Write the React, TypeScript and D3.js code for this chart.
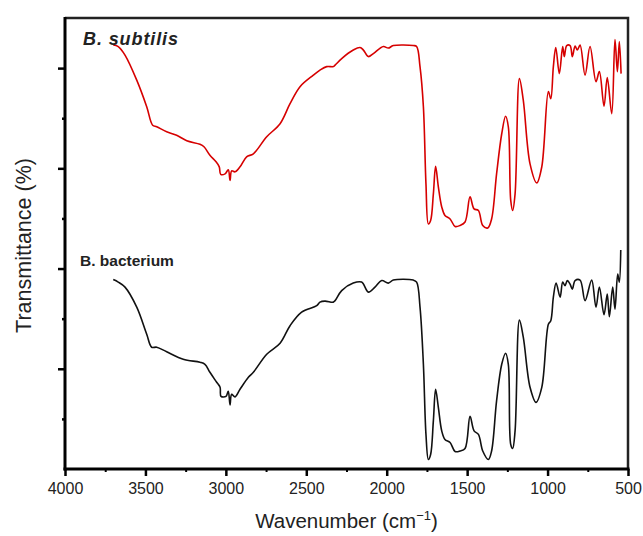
import React, { useEffect, useRef } from "react";
import * as d3 from "d3";

// wavenumber (cm-1) and transmittance (arbitrary offset units)
const subtilisWn = [
  3700, 3669, 3627, 3554, 3492, 3455, 3430, 3368, 3306, 3243, 3161, 3136, 3099, 3061, 3041, 3032, 3005, 2985, 2974, 2964,
  2943, 2912, 2871, 2829, 2746, 2663, 2601, 2539, 2456, 2415, 2373, 2332, 2321, 2280, 2208, 2166, 2145, 2114, 2083, 2021,
  1990, 1959, 1835, 1814, 1793, 1772, 1756, 1741, 1727, 1710, 1696, 1679, 1658, 1638, 1606, 1575, 1544, 1513, 1482, 1457,
  1430, 1403, 1372, 1348, 1317, 1285, 1261, 1244, 1229, 1217, 1202, 1175, 1151, 1109, 1067, 1036, 995, 980, 964, 949,
  927, 906, 896, 881, 860, 846, 829, 815, 798, 767, 736, 699, 678, 649, 629, 601, 581, 566, 554, 543,
];
const subtilisT = [
  84.6, 84.3, 82.6, 77.6, 72.3, 68.6, 68.3, 67.3, 66.6, 65.5, 64.8, 64.3, 62.6, 61.3, 60.3, 58.8, 58.9, 59.7, 57.6, 59.5,
  59.3, 60.3, 62.3, 62.9, 66.3, 68.9, 72.9, 76.3, 78.6, 79.6, 80.3, 80.3, 80.6, 81.9, 83.6, 84.1, 83.6, 82.3, 82.9, 84.3,
  84.0, 84.5, 84.5, 84.3, 80.3, 72.3, 56.9, 48.9, 49.6, 54.9, 60.4, 56.3, 52.3, 50.6, 49.9, 48.4, 48.6, 49.3, 54.3, 51.9,
  51.6, 48.6, 48.1, 49.9, 58.9, 66.9, 70.4, 68.3, 53.6, 51.6, 54.9, 77.9, 73.6, 60.9, 57.1, 60.3, 75.3, 73.9, 80.3, 84.1,
  78.9, 84.3, 82.3, 84.5, 84.5, 82.3, 84.4, 83.6, 84.6, 78.6, 84.3, 77.3, 79.3, 72.4, 78.1, 70.9, 85.7, 79.3, 85.3, 78.9,
];

const bacteriumWn = [
  3700, 3669, 3627, 3554, 3492, 3461, 3430, 3368, 3265, 3161, 3130, 3099, 3057, 3036, 3030, 2999, 2985, 2974, 2964, 2943,
  2912, 2860, 2829, 2746, 2663, 2601, 2529, 2435, 2415, 2384, 2332, 2321, 2280, 2208, 2156, 2114, 2073, 2031, 1990, 1959,
  1835, 1814, 1793, 1772, 1756, 1741, 1727, 1710, 1696, 1679, 1658, 1638, 1606, 1575, 1544, 1513, 1482, 1457, 1430, 1403,
  1368, 1348, 1317, 1285, 1261, 1244, 1229, 1217, 1202, 1175, 1151, 1109, 1072, 1036, 995, 980, 964, 947, 922, 906,
  892, 877, 860, 846, 829, 798, 767, 726, 699, 678, 649, 629, 616, 595, 581, 564, 554, 545,
];
const bacteriumT = [
  37.8, 37.3, 36.3, 32.3, 26.9, 24.3, 24.3, 23.4, 21.9, 21.3, 20.9, 19.3, 17.3, 16.3, 14.5, 14.5, 15.5, 12.8, 14.9, 14.4,
  15.9, 18.3, 19.3, 22.9, 25.1, 28.6, 31.3, 32.6, 33.3, 33.5, 33.3, 33.6, 35.6, 37.1, 37.3, 35.3, 36.3, 37.6, 37.1, 37.7,
  37.7, 37.3, 32.3, 20.9, 6.9, 1.9, 2.9, 9.6, 15.9, 12.3, 7.6, 5.9, 5.3, 3.5, 3.6, 4.1, 10.5, 7.6, 6.9, 3.6,
  1.9, 3.6, 13.6, 20.9, 23.1, 20.9, 4.9, 4.1, 7.6, 29.7, 26.3, 16.3, 13.3, 16.3, 28.9, 29.6, 34.3, 37.1, 34.3, 37.3,
  36.6, 37.6, 36.9, 35.9, 37.6, 37.7, 33.6, 37.7, 32.3, 36.3, 30.8, 34.9, 30.4, 36.3, 31.9, 38.9, 37.3, 43.7,
];

const xTicks = [4000, 3500, 3000, 2500, 2000, 1500, 1000, 500];

const width = 643;
const height = 536;
const margin = { top: 18, right: 15, bottom: 67, left: 65 };

const App: React.FC = () => {
  const ref = useRef<SVGSVGElement | null>(null);

  useEffect(() => {
    const svg = d3.select(ref.current);
    svg.selectAll("*").remove();
    svg.attr("width", width).attr("height", height);

    const font = "'Liberation Sans', Arial, sans-serif";
    const x = d3
      .scaleLinear()
      .domain([4000, 500])
      .range([margin.left, width - margin.right]);
    const y = d3
      .scaleLinear()
      .domain([0, 90])
      .range([height - margin.bottom, margin.top]);

    const line = d3
      .line<[number, number]>()
      .x((d) => x(d[0]))
      .y((d) => y(d[1]))
      .curve(d3.curveCatmullRom.alpha(0.5));

    const series = [
      { wn: subtilisWn, t: subtilisT, color: "#d60000" },
      { wn: bacteriumWn, t: bacteriumT, color: "#111111" },
    ];
    series.forEach((s) => {
      const pts = s.wn.map((w, i) => [w, s.t[i]] as [number, number]);
      svg
        .append("path")
        .attr("d", line(pts))
        .attr("fill", "none")
        .attr("stroke", s.color)
        .attr("stroke-width", 1.6)
        .attr("stroke-linejoin", "round");
    });

    // frame: top and right
    svg
      .append("path")
      .attr("d", `M${x(4000)},${y(90)}H${x(500)}V${y(0)}`)
      .attr("fill", "none")
      .attr("stroke", "#222")
      .attr("stroke-width", 2.5);

    // bottom axis
    const xAxis = svg.append("g").attr("transform", `translate(0,${y(0)})`);
    xAxis
      .append("g")
      .call(d3.axisBottom(x).tickValues(d3.range(3750, 500, -500)).tickSize(3).tickFormat(() => ""))
      .call((g) => g.select(".domain").remove())
      .selectAll("line")
      .attr("stroke-width", 2);
    const major = xAxis
      .append("g")
      .call(d3.axisBottom(x).tickValues(xTicks).tickSize(7).tickPadding(7).tickFormat(d3.format("d")));
    major.select(".domain").attr("stroke-width", 3).attr("d", `M${x(4000) - 1.5},0H${x(500) + 1.5}`);
    major.selectAll("line").attr("stroke-width", 2.5);
    major.selectAll("text").attr("font-family", font).attr("font-size", 16).attr("fill", "#222");

    // left axis, no labels
    const yAxis = svg.append("g").attr("transform", `translate(${x(4000)},0)`);
    yAxis
      .append("g")
      .call(d3.axisLeft(y).tickValues([10, 30, 50, 70]).tickSize(3).tickFormat(() => ""))
      .call((g) => g.select(".domain").remove())
      .selectAll("line")
      .attr("stroke-width", 2.5);
    const yMajor = yAxis
      .append("g")
      .call(d3.axisLeft(y).tickValues([20, 40, 60, 80]).tickSize(7).tickFormat(() => ""));
    yMajor.select(".domain").attr("stroke-width", 3).attr("d", `M0,${y(0) + 1.5}V${y(90) - 1}`);
    yMajor.selectAll("line").attr("stroke-width", 2.5);

    // sample labels
    svg
      .append("text")
      .attr("x", 83)
      .attr("y", 45)
      .attr("font-family", font)
      .attr("font-size", 18)
      .attr("letter-spacing", 0.9)
      .attr("font-weight", "bold")
      .attr("font-style", "italic")
      .attr("fill", "#222")
      .text("B. subtilis");
    svg
      .append("text")
      .attr("x", 80)
      .attr("y", 266)
      .attr("font-family", font)
      .attr("font-size", 15.5)
      .attr("font-weight", "bold")
      .attr("fill", "#222")
      .text("B. bacterium");

    // axis titles
    const xt = svg
      .append("text")
      .attr("x", (x(4000) + x(500)) / 2)
      .attr("y", 528)
      .attr("text-anchor", "middle")
      .attr("font-family", font)
      .attr("font-size", 20.5)
      .attr("fill", "#222");
    xt.append("tspan").text("Wavenumber (cm");
    xt.append("tspan").attr("dy", -8).attr("font-size", 13).text("\u2212" + "1");
    xt.append("tspan").attr("dy", 8).text(")");

    svg
      .append("text")
      .attr("transform", `translate(31,${(y(0) + y(90)) / 2 + 2}) rotate(-90)`)
      .attr("text-anchor", "middle")
      .attr("font-family", font)
      .attr("font-size", 21.5)
      .attr("fill", "#222")
      .text("Transmittance (%)");
  }, []);

  return <svg ref={ref} style={{ position: "absolute", left: 0, top: 0, background: "#fff" }}></svg>;
};

export default App;
